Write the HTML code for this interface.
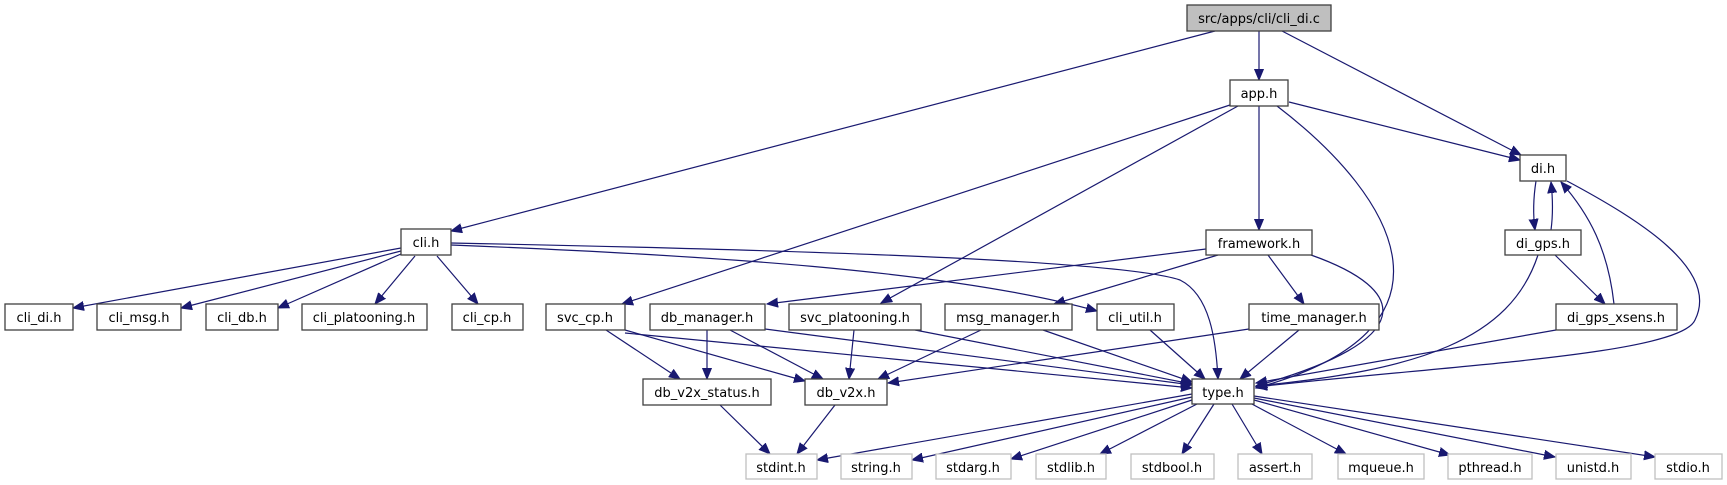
<!DOCTYPE html>
<html><head><meta charset="utf-8"><style>
html,body{margin:0;padding:0;background:#fff;width:1727px;height:485px;overflow:hidden}
svg{display:block}
text{font-family:"DejaVu Sans","Liberation Sans",sans-serif;font-size:13px;text-anchor:middle;fill:#000}
.n{fill:#fff;stroke:#404040;stroke-width:1.3}
.g{fill:#fff;stroke:#bfbfbf;stroke-width:1.3}
.e{fill:none;stroke:#191970;stroke-width:1.2;marker-end:url(#a)}
</style></head><body>
<svg width="1727" height="485" viewBox="0 0 1727 485" xmlns="http://www.w3.org/2000/svg">
<defs><marker id="a" markerUnits="userSpaceOnUse" markerWidth="12" markerHeight="10" refX="11" refY="5" orient="auto"><path d="M0,0.5 L11,5 L0,9.5 Z" fill="#191970" stroke="#191970"/></marker></defs>
<g>
<path class="e" d="M1215,31 L451,231"/>
<path class="e" d="M1259,31 L1259,80"/>
<path class="e" d="M1282,31 L1521,155"/>
<path class="e" d="M1289,102 L1520,160"/>
<path class="e" d="M1259,106 L1259,230"/>
<path class="e" d="M1230,105 L622,304"/>
<path class="e" d="M1238,106 L881,303"/>
<path class="e" d="M1277,106 C1400,200 1470,330 1256,388"/>
<path class="e" d="M1536,181 C1533,200 1533,215 1535,230"/>
<path class="e" d="M1551,230 C1553,215 1553,200 1551,182"/>
<path class="e" d="M1614,304 C1608,250 1590,215 1561,182"/>
<path class="e" d="M1567,181 C1640,220 1720,270 1695,320 C1680,355 1450,365 1256,387"/>
<path class="e" d="M1538,255 C1510,340 1420,370 1256,386"/>
<path class="e" d="M1555,255 L1605,304"/>
<path class="e" d="M1556,330 L1256,383"/>
<path class="e" d="M1206,249 L767,304"/>
<path class="e" d="M1218,255 L1054,304"/>
<path class="e" d="M1268,255 L1304,304"/>
<path class="e" d="M1311,255 C1410,290 1420,340 1256,386"/>
<path class="e" d="M401,248 L73,308"/>
<path class="e" d="M401,251 L181,308"/>
<path class="e" d="M401,254 L278,308"/>
<path class="e" d="M415,256 L375,304"/>
<path class="e" d="M437,256 L478,304"/>
<path class="e" d="M451,245 C700,255 950,270 1097,311"/>
<path class="e" d="M451,243 C800,250 1120,260 1180,280 C1210,295 1216,340 1218,379"/>
<path class="e" d="M606,330 L680,379"/>
<path class="e" d="M625,330 L805,381"/>
<path class="e" d="M625,333 L1192,388"/>
<path class="e" d="M707,330 L707,379"/>
<path class="e" d="M730,330 L823,379"/>
<path class="e" d="M765,329 L1192,385"/>
<path class="e" d="M854,330 L849,379"/>
<path class="e" d="M915,330 L1192,384"/>
<path class="e" d="M981,330 L878,379"/>
<path class="e" d="M1043,330 L1192,382"/>
<path class="e" d="M1150,330 L1205,379"/>
<path class="e" d="M1299,330 L1240,379"/>
<path class="e" d="M1249,329 L888,383"/>
<path class="e" d="M720,405 L770,454"/>
<path class="e" d="M835,405 L797,454"/>
<path class="e" d="M1192,394 L817,460"/>
<path class="e" d="M1192,397 L912,460"/>
<path class="e" d="M1192,400 L1011,459"/>
<path class="e" d="M1197,404 L1100,454"/>
<path class="e" d="M1214,404 L1182,454"/>
<path class="e" d="M1232,404 L1262,454"/>
<path class="e" d="M1250,403 L1346,454"/>
<path class="e" d="M1254,400 L1450,455"/>
<path class="e" d="M1254,398 L1555,457"/>
<path class="e" d="M1254,396 L1655,457"/>
</g>
<g>
<rect x="1187" y="5" width="144" height="26" fill="#bfbfbf" stroke="#404040" stroke-width="1.3"/><text x="1259" y="23">src/apps/cli/cli_di.c</text>
<rect class="n" x="1230" y="80" width="58" height="26"/><text x="1259" y="98">app.h</text>
<rect class="n" x="1520" y="155" width="46" height="26"/><text x="1543" y="173">di.h</text>
<rect class="n" x="401" y="229" width="50" height="26"/><text x="426" y="247">cli.h</text>
<rect class="n" x="1206" y="230" width="106" height="25"/><text x="1259" y="248">framework.h</text>
<rect class="n" x="1505" y="230" width="76" height="25"/><text x="1543" y="248">di_gps.h</text>
<rect class="n" x="5" y="304" width="68" height="26"/><text x="39" y="322">cli_di.h</text>
<rect class="n" x="97" y="304" width="84" height="26"/><text x="139" y="322">cli_msg.h</text>
<rect class="n" x="206" y="304" width="72" height="26"/><text x="242" y="322">cli_db.h</text>
<rect class="n" x="302" y="304" width="125" height="26"/><text x="364" y="322">cli_platooning.h</text>
<rect class="n" x="452" y="304" width="71" height="26"/><text x="487" y="322">cli_cp.h</text>
<rect class="n" x="546" y="304" width="79" height="26"/><text x="585" y="322">svc_cp.h</text>
<rect class="n" x="650" y="304" width="115" height="26"/><text x="707" y="322">db_manager.h</text>
<rect class="n" x="789" y="304" width="132" height="26"/><text x="855" y="322">svc_platooning.h</text>
<rect class="n" x="945" y="304" width="127" height="26"/><text x="1008" y="322">msg_manager.h</text>
<rect class="n" x="1097" y="304" width="77" height="26"/><text x="1135" y="322">cli_util.h</text>
<rect class="n" x="1249" y="304" width="130" height="26"/><text x="1314" y="322">time_manager.h</text>
<rect class="n" x="1556" y="304" width="121" height="26"/><text x="1616" y="322">di_gps_xsens.h</text>
<rect class="n" x="643" y="379" width="128" height="26"/><text x="707" y="397">db_v2x_status.h</text>
<rect class="n" x="805" y="379" width="82" height="26"/><text x="846" y="397">db_v2x.h</text>
<rect class="n" x="1192" y="379" width="62" height="25"/><text x="1223" y="397">type.h</text>
<rect class="g" x="746" y="454" width="71" height="25"/><text x="781" y="472">stdint.h</text>
<rect class="g" x="841" y="454" width="71" height="25"/><text x="876" y="472">string.h</text>
<rect class="g" x="936" y="454" width="75" height="25"/><text x="973" y="472">stdarg.h</text>
<rect class="g" x="1036" y="454" width="70" height="25"/><text x="1071" y="472">stdlib.h</text>
<rect class="g" x="1131" y="454" width="83" height="25"/><text x="1172" y="472">stdbool.h</text>
<rect class="g" x="1238" y="454" width="74" height="25"/><text x="1275" y="472">assert.h</text>
<rect class="g" x="1338" y="454" width="86" height="25"/><text x="1381" y="472">mqueue.h</text>
<rect class="g" x="1448" y="454" width="84" height="25"/><text x="1490" y="472">pthread.h</text>
<rect class="g" x="1556" y="454" width="75" height="25"/><text x="1593" y="472">unistd.h</text>
<rect class="g" x="1655" y="454" width="67" height="25"/><text x="1688" y="472">stdio.h</text>
</g>
</svg>
</body></html>
